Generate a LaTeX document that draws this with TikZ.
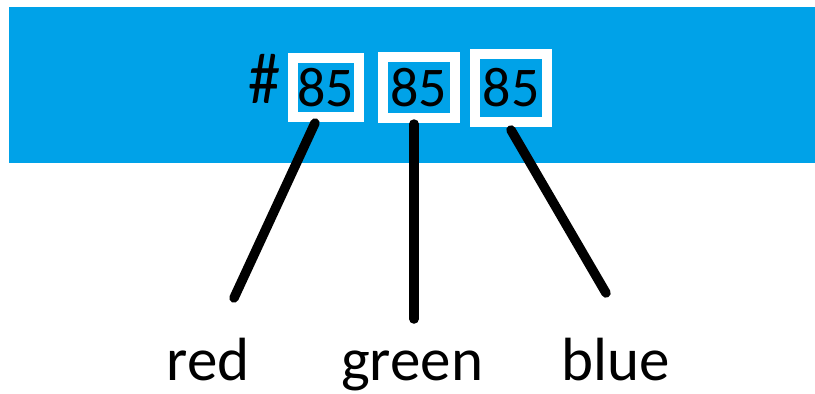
\documentclass[tikz,border=0pt]{standalone}
\usepackage{fontspec}
\setmainfont{Carlito}
\definecolor{band}{HTML}{00A2E8}
\begin{document}
\begin{tikzpicture}[x=1pt,y=-1pt,
  hexbox/.style={draw=white,line width=10pt,fill=band,inner sep=0pt,outer sep=0pt,font=\fontsize{56}{66}\selectfont},
  lbl/.style={anchor=base,inner sep=0pt,font=\fontsize{61}{72}\selectfont},
  conn/.style={line width=9.5pt,line cap=round}]
\useasboundingbox (0,0) rectangle (815,394);
\fill[white] (0,0) rectangle (815,394);
\fill[band] (9,7) rectangle (815,163);
\node[anchor=base,inner sep=0pt,font=\fontsize{56}{66}\selectfont,xscale=1.15,yscale=1.3] (hash) at (265,103) {\#};
\node[hexbox,minimum width=66pt,minimum height=58.5pt] (b1) at (325.5,87.25) {85};
\node[hexbox,minimum width=71.5pt,minimum height=61.5pt] (b2) at (418.75,87.25) {85};
\node[hexbox,minimum width=72pt,minimum height=68pt] (b3) at (511,88) {85};
\node[lbl] (red) at (208,380) {red};
\node[lbl] (green) at (412,380) {green};
\node[lbl] (blue) at (616,380) {blue};
\coordinate (r1) at (315,123);
\coordinate (r2) at (234,298);
\coordinate (g1) at (414,124);
\coordinate (g2) at (414,319);
\coordinate (u1) at (511,130);
\coordinate (u2) at (606,293);
\draw[conn] (r1) -- (r2);
\draw[conn] (g1) -- (g2);
\draw[conn] (u1) -- (u2);
\end{tikzpicture}
\end{document}
